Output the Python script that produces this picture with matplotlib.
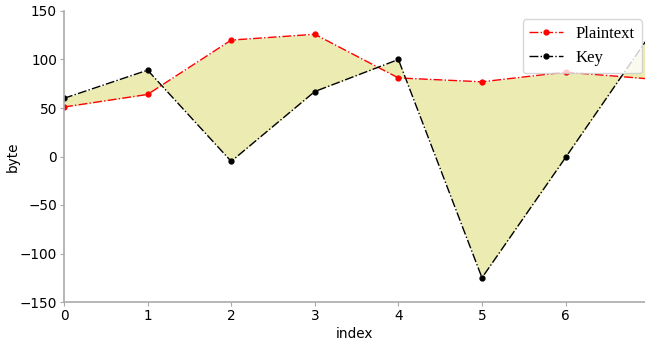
import matplotlib
matplotlib.use("Agg")
import matplotlib.pyplot as plt
import numpy as np

index = [0, 1, 2, 3, 4, 5, 6, 7]
plaintext = [51, 64, 120, 126, 81, 77, 87, 80]
key = [60, 89, -5, 67, 100, -125, -1, 124]

fig = plt.figure(figsize=(6.45, 3.42), dpi=100)
ax = fig.add_axes([64 / 645, 40 / 342, (645 - 64) / 645, (302 - 11) / 342])

ax.fill_between(index, plaintext, key, color="y", alpha=0.3, linewidth=0)
ax.plot(index, plaintext, color="red", linestyle="-.", marker="o", markersize=3.5,
        linewidth=1, label="Plaintext")
ax.plot(index, key, color="black", linestyle="-.", marker="o", markersize=3.5,
        linewidth=1, label="Key")

ax.set_xlim(0, 6.95)
ax.set_ylim(-150, 150)
ax.set_xticks(range(0, 7))
ax.set_yticks([-150, -100, -50, 0, 50, 100, 150])
ax.tick_params(labelsize=9.8, color="#aaaaaa", length=3, pad=2)
ax.set_xlabel("index", fontsize=9.8, labelpad=3)
ax.set_ylabel("byte", fontsize=9.8, labelpad=0)

for side in ("top", "right"):
    ax.spines[side].set_visible(False)
for side in ("left", "bottom"):
    ax.spines[side].set_color("#aaaaaa")
    ax.spines[side].set_linewidth(1.2)

ax.legend(loc="upper right", prop={"family": "Liberation Serif", "size": 12},
          bbox_to_anchor=(1.0 + 5 / 581, 1.0))

fig.savefig("out.png", dpi=100)
